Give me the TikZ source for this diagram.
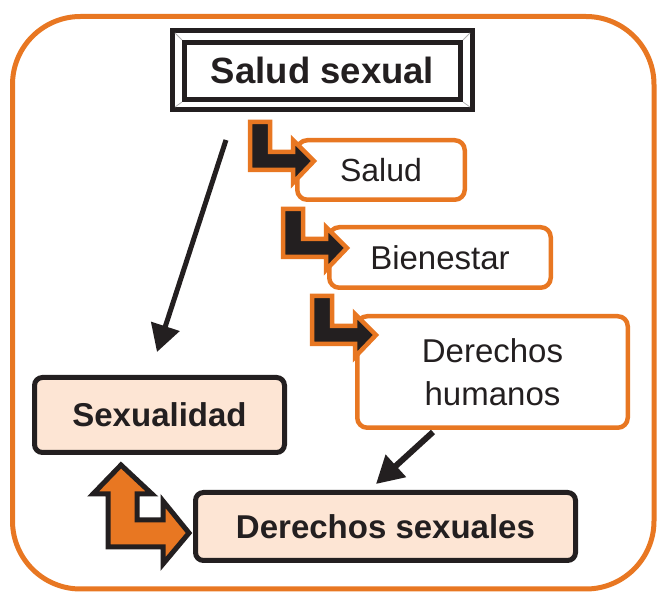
\documentclass[tikz,border=0pt]{standalone}
\usepackage{fontspec}
\setmainfont{Liberation Sans}
\usetikzlibrary{arrows.meta}
\definecolor{orn}{RGB}{232,119,34}
\definecolor{blk}{RGB}{35,31,32}
\definecolor{peach}{RGB}{253,229,212}
\begin{document}
\begin{tikzpicture}[x=1pt,y=-1pt,
  obox/.style={draw=orn, line width=4.5pt, rounded corners=10pt, fill=white, align=center, inner sep=0pt, text=blk},
  pbox/.style={draw=blk, line width=5pt, rounded corners=8pt, fill=peach, inner sep=0pt, text=blk, font=\bfseries\fontsize{33}{38}\selectfont},
  larrow/.style={fill=blk, draw=orn, line width=4.5pt, line join=miter},
  conn/.style={draw=blk, line width=5pt, -{Triangle[length=27pt,width=29pt]}},
  larr/.pic={\path[larrow] (0,0) -- (20,0) -- (20,30) -- (43,30) -- (43,18) -- (64,39) -- (43,61) -- (43,48) -- (0,48) -- cycle;}
]
\useasboundingbox (0,0) rectangle (657,593);
\draw[orn, line width=5pt, rounded corners=68pt] (12.5,16.5) rectangle (654,589);

% Salud sexual framed title
\draw[blk, line width=5pt] (172.5,30.5) rectangle (472.5,109.5);
\draw[blk, line width=5pt] (184.5,42.5) rectangle (460.5,99.5);
\draw[gray!60, line width=0.8pt] (175,33) -- (182,40) (470,33) -- (463,40) (175,107) -- (182,102) (470,107) -- (463,102);
\node (ss) at (322.5,70) [minimum width=300pt, minimum height=79pt, inner sep=0pt, text=blk, font=\bfseries\fontsize{36.5}{40}\selectfont] {Salud sexual};

% chain boxes
\node[obox, minimum width=167.5pt, minimum height=59.5pt, font=\fontsize{32}{36}\selectfont] (salud) at (381,170) {Salud};
\node[obox, minimum width=221.5pt, minimum height=60.5pt, font=\fontsize{33}{38}\selectfont] (bien) at (440,257.5) {Bienestar};
\node[obox, minimum width=270.5pt, minimum height=111.5pt, font=\fontsize{33}{43}\selectfont] (dh) at (492.5,372) {Derechos\\humanos};

% peach boxes
\node[pbox, minimum width=250pt, minimum height=75pt] (sex) at (159.5,415) {Sexualidad};
\node[pbox, minimum width=380pt, minimum height=68pt] (ds) at (385.5,526.5) {Derechos sexuales};

% L-shaped block arrows
\pic at (250,122) {larr};
\pic at (283,209) {larr};
\pic at (312,296) {larr};

% orange double block arrow
\path[fill=orn, draw=blk, line width=5pt, line join=miter]
  (121,465) -- (152,494) -- (137,494) -- (137,520) -- (163,520) -- (163,501) -- (189,533)
  -- (163,564) -- (163,547) -- (108,547) -- (108,494) -- (93,494) -- cycle;

% connectors
\coordinate (c1s) at (226,140);
\coordinate (c1e) at (157,352);
\draw[conn] (c1s) -- (c1e);
\coordinate (c2s) at (433,432);
\coordinate (c2e) at (376,484);
\draw[conn, line width=6pt] (c2s) -- (c2e);
\end{tikzpicture}
\end{document}
